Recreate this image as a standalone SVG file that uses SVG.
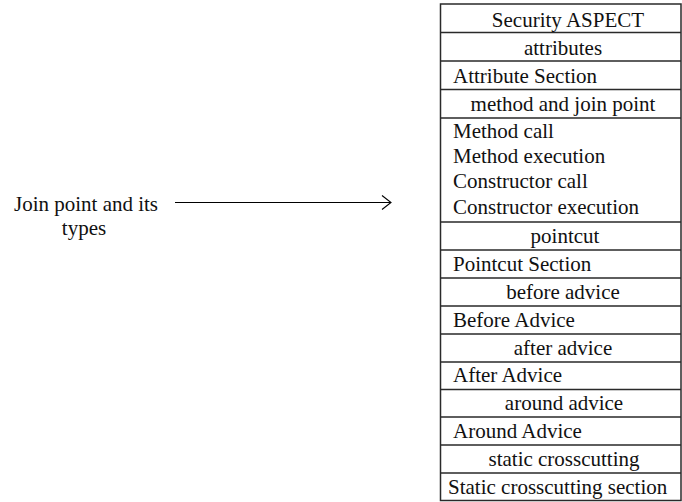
<svg xmlns="http://www.w3.org/2000/svg" width="682" height="502" viewBox="0 0 682 502">
  <defs>
    <marker id="open-arrow" markerWidth="12" markerHeight="16" refX="10" refY="8" orient="auto" markerUnits="userSpaceOnUse">
      <path d="M1,1 L10,8 L1,15" fill="none" stroke="#000" stroke-width="1.1"/>
    </marker>
  </defs>
  <style>
    text { font-family: "Liberation Serif", "Times New Roman", serif; font-size: 21px; fill: #111; }
    .c { text-anchor: middle; }
    .rule { stroke: #2a2a2a; stroke-width: 1.5; fill: none; }
    .conn { stroke: #000; stroke-width: 1.1; fill: none; }
  </style>
  <rect width="682" height="502" fill="#fff"/>

  <!-- caption on the left -->
  <g id="joinpoint-label">
    <text class="c" x="86" y="211">Join point and its</text>
    <text class="c" x="84" y="235">types</text>
  </g>

  <!-- connectors -->
  <g id="connectors">
    <line class="conn" x1="175" y1="202.5" x2="391" y2="202.5" marker-end="url(#open-arrow)"/>
  </g>

  <!-- security aspect table -->
  <g id="security-aspect">
    <rect class="rule" x="440.5" y="4" width="240.5" height="496.5"/>
    <path class="rule" d="M440.5,32.5H681 M440.5,61H681 M440.5,89.5H681 M440.5,118H681 M440.5,222H681 M440.5,250H681 M440.5,278H681 M440.5,306H681 M440.5,334H681 M440.5,362H681 M440.5,389.5H681 M440.5,417H681 M440.5,445H681 M440.5,473H681"/>
    <text class="c" x="568" y="27">Security ASPECT</text>
    <text class="c" x="563" y="55">attributes</text>
    <text x="453" y="83">Attribute Section</text>
    <text class="c" x="563" y="111">method and join point</text>
    <text x="453" y="138">Method call</text>
    <text x="453" y="163">Method execution</text>
    <text x="453" y="188">Constructor call</text>
    <text x="453" y="214">Constructor execution</text>
    <text class="c" x="565" y="243">pointcut</text>
    <text x="453" y="271">Pointcut Section</text>
    <text class="c" x="563" y="299">before advice</text>
    <text x="453" y="327">Before Advice</text>
    <text class="c" x="563" y="355">after advice</text>
    <text x="453" y="382">After Advice</text>
    <text class="c" x="564" y="410">around advice</text>
    <text x="453" y="438">Around Advice</text>
    <text class="c" x="564" y="466">static crosscutting</text>
    <text x="448" y="494">Static crosscutting section</text>
  </g>
</svg>
